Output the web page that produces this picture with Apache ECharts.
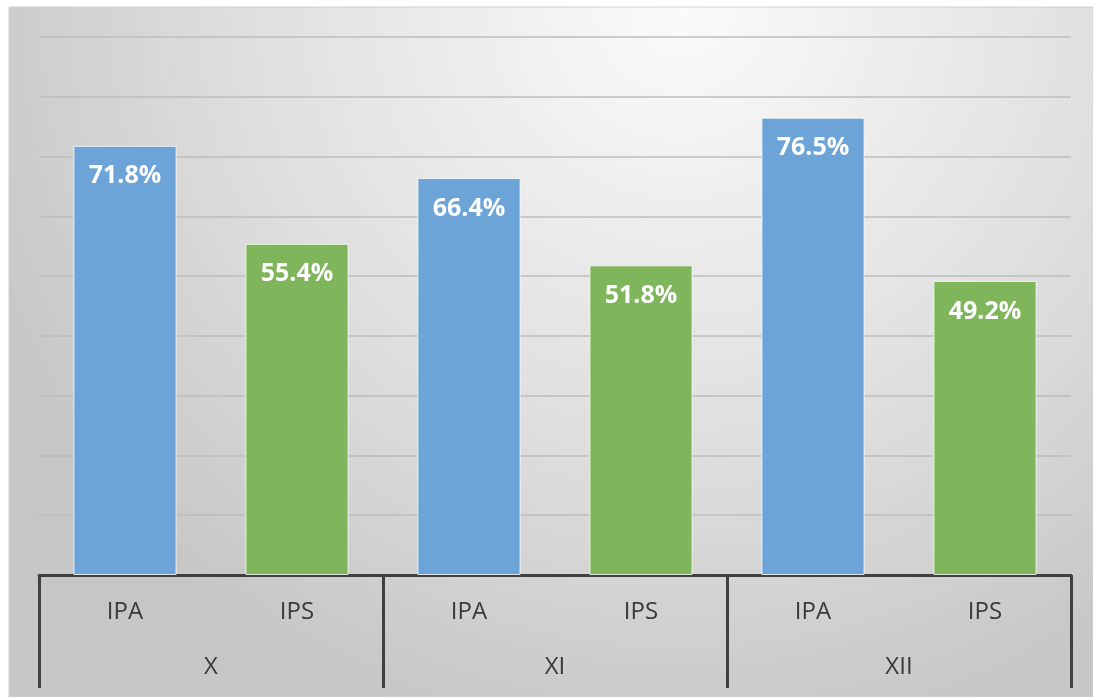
<!DOCTYPE html>
<html>
<head>
<meta charset="utf-8">
<script src="https://cdn.jsdelivr.net/npm/echarts@6/dist/echarts.min.js"></script>
<style>
  html, body { margin: 0; padding: 0; background: #ffffff; }
  #chart { width: 1093px; height: 697px; }
</style>
</head>
<body>
<div id="chart"></div>
<script>
// données
const groups = ['X', 'XI', 'XII'];
const subjects = ['IPA', 'IPS'];
const ipaValues = [71.8, 66.4, 76.5];
const ipsValues = [55.4, 51.8, 49.2];
const yTicks = [0, 10, 20, 30, 40, 50, 60, 70, 80, 90];

const BLUE = '#6ca4d7';
const GREEN = '#7fb55b';

// on alterne IPA / IPS pour chaque classe
const categories = [];
const barData = [];
groups.forEach((g, i) => {
    categories.push(subjects[0]);
    barData.push({ value: ipaValues[i], itemStyle: { color: BLUE } });
    categories.push(subjects[1]);
    barData.push({ value: ipsValues[i], itemStyle: { color: GREEN } });
});

const chart = echarts.init(document.getElementById('chart'));

const option = {
    backgroundColor: '#ffffff',
    animation: false,
    graphic: [{
        type: 'rect',
        z: -100,
        silent: true,
        shape: { x: 9, y: 7, width: 1093 - 9, height: 697 - 7 },
        style: {
            fill: {
                type: 'radial', x: 0.62, y: 0.0, r: 1.1,
                colorStops: [
                    { offset: 0, color: '#fbfbfb' },
                    { offset: 0.55, color: '#e0e0e0' },
                    { offset: 1, color: '#c6c6c6' }
                ]
            },
            stroke: '#cfcfcf',
            lineWidth: 1
        }
    }],
    grid: { left: 39, right: 22, top: 37, bottom: 122 },
    xAxis: [
        {
            type: 'category',
            data: categories,
            axisLine: { lineStyle: { color: '#404040', width: 3 } },
            axisTick: { show: false },
            axisLabel: {
                margin: 25,
                color: '#3a3a3a',
                fontSize: 24,
                fontFamily: 'Open Sans'
            }
        },
        {
            type: 'category',
            data: groups,
            position: 'bottom',
            axisLine: { show: false },
            axisTick: { show: true, length: 113, lineStyle: { color: '#404040', width: 3 } },
            axisLabel: {
                margin: 80,
                color: '#3a3a3a',
                fontSize: 24,
                fontFamily: 'Open Sans'
            }
        }
    ],
    yAxis: {
        type: 'value',
        min: yTicks[0],
        max: yTicks[yTicks.length - 1],
        interval: 10,
        axisLabel: { show: false },
        axisLine: { show: false },
        axisTick: { show: false },
        splitLine: { lineStyle: { color: '#bdbdbd', width: 1.5 } }
    },
    series: [{
        type: 'bar',
        data: barData,
        barWidth: '60%',
        itemStyle: { borderColor: 'rgba(255,255,255,0.8)', borderWidth: 1 },
        label: {
            show: true,
            position: 'insideTop',
            distance: 18,
            color: '#ffffff',
            fontSize: 25,
            fontWeight: 'bold',
            fontFamily: 'Open Sans',
            formatter: (p) => p.value.toFixed(1) + '%'
        }
    }]
};

chart.setOption(option);
</script>
</body>
</html>
